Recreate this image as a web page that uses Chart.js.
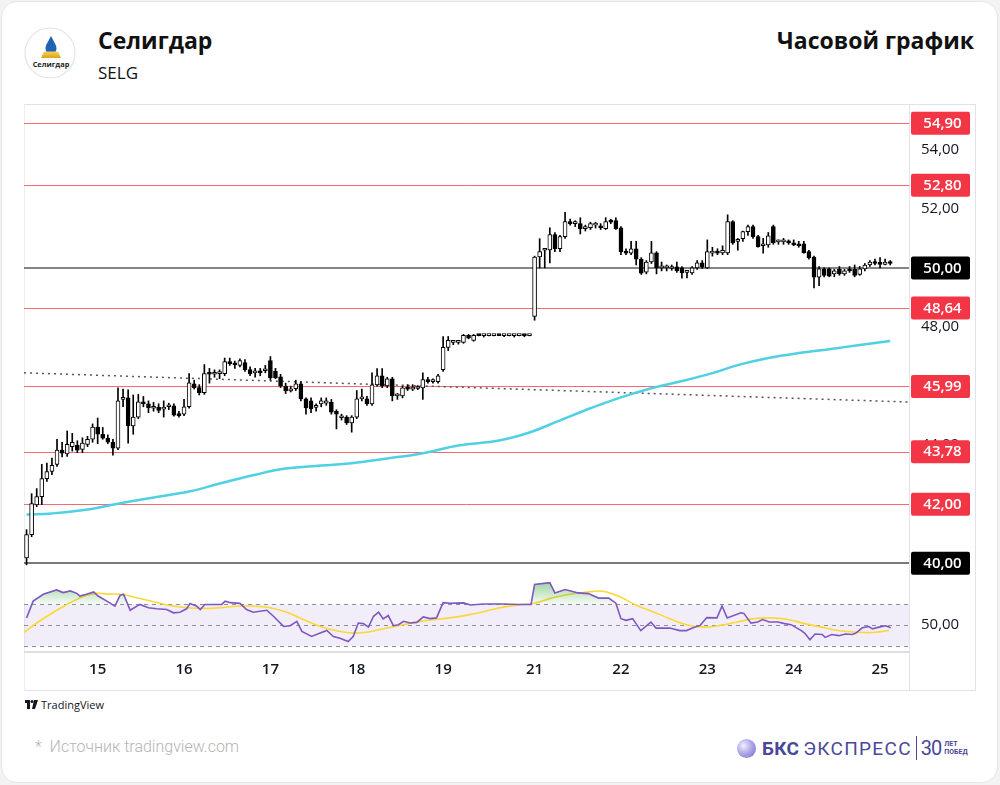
<!doctype html>
<html lang="ru">
<head>
<meta charset="utf-8">
<title>Селигдар — часовой график</title>
<script src="https://cdn.jsdelivr.net/npm/chart.js@4/dist/chart.umd.min.js"></script>
<style>
  html, body { margin: 0; padding: 0; background: #f3f3f3; }
  body { width: 1000px; height: 785px; position: relative; overflow: hidden; font-family: "Open Sans", "Noto Sans", sans-serif; }
  .card { position: absolute; left: 1px; top: 1px; width: 995px; height: 780px; background: #fff; border: 1px solid #e6e6e6; border-radius: 16px; }
  .logo { position: absolute; left: 24px; top: 27px; }
  .title { position: absolute; left: 98px; top: 24px; font-size: 23px; font-weight: 700; color: #111; }
  .ticker { position: absolute; left: 98px; top: 61px; font-size: 17px; color: #111; }
  .right-title { position: absolute; right: 26px; top: 24px; font-size: 23px; font-weight: 700; color: #111; }
  .frame { position: absolute; left: 24px; top: 104px; width: 950px; height: 585px; border: 1px solid #e0e3eb; border-left-color: #eceef2; }
  .sep { position: absolute; left: 909px; top: 105px; width: 1px; height: 585px; background: #e0e3eb; }
  /* canvases are offset by the 22px label padding Chart.js keeps above/below the y axes */
  #priceWrap { position: absolute; left: 24px; top: 83px; width: 952px; height: 504px; z-index: 2; }
  #rsiWrap { position: absolute; left: 24px; top: 548px; width: 952px; height: 142px; z-index: 1; }
  .tv { position: absolute; left: 25px; top: 697px; font-size: 11px; color: #131722; display: flex; align-items: center; gap: 3px; }
  .source { position: absolute; left: 35px; top: 737px; font-family: Roboto, sans-serif; font-size: 16px; font-weight: 300; color: #b4b4b4; }
  .bks { position: absolute; left: 737px; top: 736px; display: flex; align-items: center; color: #4a4799; font-family: Roboto, sans-serif; }
  .bks .ball { width: 19px; height: 19px; border-radius: 50%; background: radial-gradient(circle at 35% 35%, #f1efff 0%, #b7b0ec 40%, #6f64c9 100%); margin-right: 6px; }
  .bks .b1 { font-size: 19px; font-weight: 700; letter-spacing: 0.3px; }
  .bks .b2 { font-size: 19px; font-weight: 400; margin-left: 4px; letter-spacing: 1.3px; }
  .bks .bar { width: 1px; height: 24px; background: #4a4799; margin: 0 4px 0 4px; }
  .bks .b3 { font-size: 20px; font-weight: 400; letter-spacing: -1px; }
  .bks .b4 { font-size: 7px; line-height: 8px; font-weight: 700; margin-left: 3px; }
</style>
</head>
<body>
<div class="card"></div>

<svg class="logo" width="54" height="54" viewBox="0 0 54 54">
  <defs>
    <linearGradient id="gold" x1="0" y1="0" x2="0" y2="1">
      <stop offset="0" stop-color="#f6d35a"/>
      <stop offset="1" stop-color="#d9a21b"/>
    </linearGradient>
  </defs>
  <circle cx="26" cy="26" r="25" fill="#fff" stroke="#e4e4e4" stroke-width="1.2"/>
  <path d="M27 9 C24 15 21.5 18 21.5 21.5 A5.5 5.5 0 0 0 32.5 21.5 C32.5 18 30 15 27 9 Z" fill="#1f63b5"/>
  <polygon points="17,31 37,31 34,24.5 20,24.5" fill="url(#gold)"/>
  <text x="27" y="40" text-anchor="middle" font-family="Open Sans, sans-serif" font-size="7.4" font-weight="700" fill="#222">Селигдар</text>
</svg>
<div class="title">Селигдар</div>
<div class="ticker">SELG</div>
<div class="right-title">Часовой график</div>

<div class="frame"></div>
<div class="sep"></div>
<div id="rsiWrap"><canvas id="rsi"></canvas></div>
<div id="priceWrap"><canvas id="price"></canvas></div>

<div class="tv">
  <svg width="13" height="9" viewBox="0 0 13 9"><path d="M0 0h5v9H2V3H0z M9 0h4l-3 9H7z" fill="#131722"/><circle cx="7" cy="1.6" r="1.5" fill="#131722"/></svg>
  <span>TradingView</span>
</div>
<div class="source">*&nbsp;&nbsp;Источник tradingview.com</div>
<div class="bks">
  <div class="ball"></div>
  <span class="b1">БКС</span><span class="b2">ЭКСПРЕСС</span>
  <div class="bar"></div>
  <span class="b3">30</span><span class="b4">ЛЕТ<br>ПОБЕД</span>
</div>

<script>
// day labels on the time axis (candle index of the first bar of each day)
const dayTicks = [14, 31, 48, 65, 82, 100, 117, 134, 151, 168];
const dayLabels = ['15', '16', '17', '18', '19', '21', '22', '23', '24', '25'];

// horizontal levels
const redLevels = [54.90, 52.80, 48.64, 45.99, 43.78, 42.00];
const blackLevels = [50.00, 40.00];

// hourly candles: open, high, low, close
const ohlc = [
  [40.18, 41.14, 39.95, 40.97], [40.97, 42.36, 40.90, 42.02], [41.98, 42.53, 41.92, 42.26], [42.26, 43.35, 41.99, 42.87],
  [42.87, 43.39, 42.77, 43.11], [43.11, 43.56, 43.00, 43.32], [43.35, 44.20, 43.28, 43.83], [43.83, 44.10, 43.60, 43.73],
  [43.70, 44.48, 43.62, 44.03], [43.95, 44.40, 43.80, 44.10], [44.00, 44.15, 43.75, 43.83], [43.86, 44.25, 43.75, 44.07],
  [44.03, 44.30, 43.95, 44.20], [44.20, 44.72, 44.10, 44.61], [44.61, 44.92, 44.05, 44.37], [44.37, 44.60, 44.20, 44.24],
  [44.24, 44.35, 44.05, 44.10], [44.10, 44.20, 43.66, 43.90], [43.90, 45.94, 43.85, 45.50], [45.55, 45.90, 45.30, 45.60],
  [45.60, 45.87, 44.07, 44.65], [44.65, 45.70, 44.37, 44.95], [44.95, 45.72, 44.90, 45.47], [45.47, 45.65, 45.30, 45.40],
  [45.40, 45.50, 45.10, 45.26], [45.25, 45.45, 45.15, 45.28], [45.28, 45.40, 45.10, 45.18], [45.22, 45.50, 44.95, 45.26],
  [45.30, 45.42, 45.20, 45.34], [45.33, 45.40, 44.98, 45.02], [45.02, 45.15, 44.95, 45.00], [45.05, 45.55, 45.00, 45.30],
  [45.30, 46.42, 45.25, 46.11], [46.08, 46.20, 45.90, 45.95], [45.95, 46.05, 45.70, 45.78], [45.78, 46.73, 45.72, 46.42],
  [46.42, 46.60, 46.10, 46.40], [46.40, 46.55, 46.30, 46.42], [46.42, 46.55, 46.25, 46.44], [46.42, 46.95, 46.35, 46.83],
  [46.83, 46.95, 46.70, 46.76], [46.78, 46.85, 46.60, 46.72], [46.70, 46.92, 46.65, 46.86], [46.80, 46.90, 46.50, 46.56],
  [46.56, 46.65, 46.35, 46.42], [46.45, 46.60, 46.30, 46.46], [46.46, 46.60, 46.35, 46.45], [46.52, 46.70, 46.45, 46.58],
  [46.86, 47.00, 46.20, 46.28], [46.50, 46.60, 46.25, 46.28], [46.31, 46.40, 45.95, 46.00], [46.00, 46.10, 45.75, 45.84],
  [45.84, 46.00, 45.80, 45.90], [45.91, 46.20, 45.85, 46.08], [46.08, 46.15, 45.50, 45.57], [45.57, 45.60, 45.05, 45.26],
  [45.50, 45.60, 45.10, 45.23], [45.28, 45.40, 45.15, 45.32], [45.40, 45.60, 45.30, 45.50], [45.42, 45.60, 45.35, 45.50],
  [45.45, 45.55, 45.05, 45.12], [45.15, 45.20, 44.55, 45.05], [44.93, 45.05, 44.85, 44.97], [44.95, 45.00, 44.70, 44.75],
  [44.75, 45.00, 44.44, 44.95], [44.95, 45.85, 44.90, 45.57], [45.57, 45.90, 45.50, 45.60], [45.57, 45.65, 45.35, 45.40],
  [45.40, 46.45, 45.35, 46.04], [46.04, 46.59, 46.00, 46.35], [46.35, 46.59, 45.95, 46.01], [46.01, 46.30, 45.95, 46.25],
  [46.25, 46.30, 45.50, 45.67], [45.67, 45.75, 45.55, 45.67], [45.67, 46.00, 45.60, 45.94], [45.94, 46.05, 45.85, 45.90],
  [45.90, 46.05, 45.85, 45.92], [45.92, 46.02, 45.88, 45.95], [45.94, 46.45, 45.55, 46.22], [46.22, 46.30, 46.10, 46.15],
  [46.15, 46.25, 46.10, 46.18], [46.15, 46.40, 46.10, 46.35], [46.56, 47.68, 46.50, 47.31], [47.31, 47.68, 47.20, 47.55],
  [47.48, 47.55, 47.40, 47.48], [47.48, 47.55, 47.42, 47.50], [47.48, 47.75, 47.45, 47.72], [47.72, 47.75, 47.60, 47.62],
  [47.55, 47.75, 47.52, 47.72], [47.72, 47.74, 47.70, 47.71], [47.71, 47.73, 47.66, 47.71], [47.71, 47.72, 47.70, 47.71],
  [47.71, 47.73, 47.70, 47.72], [47.72, 47.73, 47.71, 47.71], [47.71, 47.72, 47.67, 47.71], [47.71, 47.72, 47.70, 47.71],
  [47.71, 47.73, 47.66, 47.71], [47.71, 47.72, 47.70, 47.72], [47.72, 47.73, 47.67, 47.71], [47.71, 47.73, 47.70, 47.72],
  [48.36, 50.40, 48.23, 50.37], [50.37, 50.99, 50.00, 50.55], [50.60, 50.62, 50.00, 50.61], [50.61, 51.36, 50.17, 51.13],
  [51.13, 51.20, 50.55, 50.65], [50.65, 51.10, 50.55, 51.06], [51.06, 51.88, 51.00, 51.57], [51.57, 51.65, 51.45, 51.50],
  [51.50, 51.60, 51.40, 51.50], [51.50, 51.70, 51.15, 51.33], [51.33, 51.45, 51.25, 51.36], [51.36, 51.55, 51.30, 51.50],
  [51.45, 51.55, 51.35, 51.50], [51.42, 51.50, 51.30, 51.36], [51.33, 51.70, 51.30, 51.57], [51.60, 51.65, 51.50, 51.55],
  [51.60, 51.70, 51.30, 51.33], [51.36, 51.40, 50.45, 50.55], [50.55, 50.65, 50.45, 50.50], [50.50, 50.90, 50.45, 50.65],
  [50.65, 50.90, 50.10, 50.30], [50.30, 50.35, 49.78, 49.82], [49.86, 50.25, 49.80, 50.20], [50.20, 50.90, 50.15, 50.51],
  [50.51, 50.55, 49.80, 50.00], [50.00, 50.20, 49.90, 50.00], [50.00, 50.10, 49.90, 50.02], [49.98, 50.10, 49.92, 50.04],
  [50.04, 50.20, 49.85, 49.90], [50.00, 50.05, 49.65, 49.83], [49.85, 49.90, 49.66, 49.88], [49.83, 50.05, 49.78, 50.00],
  [50.00, 50.25, 49.95, 50.17], [50.17, 50.25, 49.98, 50.03], [50.00, 50.95, 49.98, 50.55], [50.50, 50.70, 50.40, 50.55],
  [50.55, 50.65, 50.45, 50.50], [50.51, 50.75, 50.45, 50.60], [50.51, 51.80, 50.45, 51.57], [51.57, 51.60, 50.80, 50.85],
  [50.90, 51.00, 50.60, 50.95], [50.99, 51.25, 50.90, 51.23], [51.23, 51.45, 51.10, 51.40], [51.40, 51.45, 51.00, 51.06],
  [51.06, 51.10, 50.70, 50.72], [50.75, 51.00, 50.50, 50.80], [50.78, 51.20, 50.70, 51.09], [51.40, 51.45, 50.80, 50.85],
  [50.88, 50.95, 50.80, 50.90], [50.88, 51.00, 50.80, 50.92], [50.92, 50.95, 50.80, 50.85], [50.85, 50.95, 50.75, 50.78],
  [50.80, 50.90, 50.70, 50.75], [50.82, 50.90, 50.50, 50.51], [50.55, 50.60, 50.30, 50.34], [50.37, 50.40, 49.32, 49.69],
  [49.69, 50.05, 49.40, 49.97], [49.97, 50.00, 49.70, 49.75], [49.97, 50.00, 49.70, 49.72], [49.80, 49.95, 49.70, 49.90],
  [49.95, 50.05, 49.75, 49.80], [49.80, 49.95, 49.75, 49.90], [49.93, 50.05, 49.85, 49.90], [49.95, 50.10, 49.70, 49.75],
  [49.78, 50.05, 49.75, 49.97], [49.97, 50.15, 49.90, 50.10], [50.10, 50.25, 50.05, 50.20], [50.20, 50.30, 50.10, 50.15],
  [50.15, 50.35, 50.00, 50.12], [50.12, 50.30, 50.10, 50.20], [50.18, 50.25, 50.10, 50.15]
];

// long moving average (cyan), read at sample points [candle index, value]
const maPoints = [
  [0, 41.65], [5, 41.69], [12, 41.82], [18, 42.02], [25, 42.23], [32, 42.43], [38, 42.70], [45, 43.00],
  [51, 43.21], [58, 43.31], [64, 43.39], [71, 43.55], [78, 43.73], [85, 43.99], [93, 44.16], [99, 44.43],
  [105, 44.84], [111, 45.25], [117, 45.62], [123, 45.93], [129, 46.17], [135, 46.44], [140, 46.71],
  [146, 46.95], [152, 47.12], [158, 47.25], [164, 47.39], [170, 47.53]
];

// dotted trend line
const trendPoints = [[-0.5, 46.45], [173.7, 45.46]];

// RSI (purple) and its moving average (yellow)
const rsiPoints = [
  [0, 57], [1.3, 73.2], [3.3, 79.8], [5.9, 84], [7.2, 81.4], [8.6, 83], [9.9, 80.7], [10.5, 78.1], [11.8, 79.8],
  [13.2, 82], [14.1, 78.1], [15.8, 73.2], [17.4, 68.3], [18.4, 78.8], [19.1, 79.8], [20.4, 64.4], [22.3, 70],
  [24, 66.8], [25.6, 65.8], [27.6, 65.1], [28.9, 61.9], [30.2, 62.5], [31.5, 65.8], [32.2, 71], [33.5, 68.3],
  [34.2, 65.1], [35.1, 70], [36.8, 70], [38.4, 70], [39.1, 73.2], [40.1, 71.7], [42, 71], [43.3, 65.1],
  [44.6, 62.5], [47.3, 64.4], [48.6, 58.6], [50.6, 48.8], [51.9, 49.5], [53.2, 53.7], [54.2, 44], [56.1, 39.1],
  [57.8, 42.4], [59.1, 44.9], [60.4, 39.1], [61.7, 37.5], [63.3, 34.2], [64.3, 39.1], [65.3, 52.1], [66.3, 51.5],
  [67.3, 48.2], [68.3, 58.6], [69.3, 62.5], [70.2, 56], [71.2, 59.3], [72.2, 49.5], [73.2, 50.5], [74.2, 53.7],
  [75.5, 52.1], [76.8, 52.7], [78.1, 58], [79.4, 56.3], [80.7, 57], [82, 71.7], [83.4, 71.2], [86, 71.5],
  [87.4, 69.5], [90, 70.4], [94, 70.4], [96.7, 70], [99.3, 70], [100, 89.3], [103, 91], [104, 81.1],
  [106, 84.3], [107.3, 82.7], [108.6, 81.1], [110.6, 80.4], [112.6, 76.1], [114.6, 76.1], [116, 71.2],
  [117, 56.3], [118, 54.7], [119.3, 56.3], [120.9, 44.8], [122.9, 53], [123.9, 47.2], [126.6, 47.2],
  [128.6, 44.8], [129.9, 44.8], [131.2, 47.5], [132.6, 49.8], [133.9, 57.3], [135.9, 57], [136.9, 68.5],
  [137.9, 57], [140.6, 62], [141.2, 61.4], [142.6, 52], [143.9, 53], [144.9, 55.4], [146.2, 53], [147.9, 53],
  [149.2, 51.5], [150.5, 50.5], [152.5, 44.8], [153.2, 42.2], [154.2, 36], [155.2, 41.5], [156.6, 41],
  [157.2, 38.2], [158.5, 41], [159.9, 39.9], [161.2, 41.5], [162.5, 41], [163.2, 42.2], [164.5, 47.5],
  [165.8, 48.7], [166.5, 46.5], [167.8, 48.1], [169.1, 49.4], [170.1, 47.5]
];
const rsiSignal = [
  [-0.5, 43], [2, 52.1], [5.3, 62.5], [8.6, 71.7], [11.8, 78.8], [13.8, 80.7], [15.8, 80], [18.4, 79.8],
  [21.7, 76.5], [25, 72.6], [28.2, 69], [31.5, 66.8], [34.8, 66.1], [38.1, 66.8], [41.4, 68.3], [44.6, 68.3],
  [47.9, 66.8], [51.2, 62.5], [54.5, 55.4], [57.8, 48.8], [61.1, 44.6], [64.3, 42.4], [67.6, 43.7], [70.9, 47.3],
  [74.2, 50.5], [77.5, 53.7], [80.7, 55.4], [84, 57.5], [86.7, 59.7], [90, 63], [93.3, 66.9], [96.7, 69.5],
  [100, 71.2], [103.3, 76.1], [106.6, 79.5], [110, 81.7], [113.3, 82.7], [116.6, 77.8], [119.9, 69.5],
  [123.3, 63], [126.6, 56.3], [129.9, 50.4], [133.2, 48.1], [136.6, 49.8], [139.9, 53], [143.2, 56.3],
  [146.6, 57], [149.9, 55.4], [153.2, 51.5], [156.5, 48.1], [159.8, 44.8], [163.2, 43.2], [166.5, 42.9],
  [169.8, 44.8]
];
const rsiBands = [70, 50, 30];

const X_MIN = -0.5, X_MAX = 173.7;
const AXIS_W = 67;
const FONT = '"Open Sans", "Noto Sans", sans-serif';
const fmt = v => v.toFixed(2).replace('.', ',');
const toXY = arr => arr.map(p => ({ x: p[0], y: p[1] }));

// level lines under the candles, price badges on the right axis
const levelsPlugin = {
  id: 'levels',
  beforeDatasetsDraw(chart) {
    const { ctx, chartArea: a, scales: { y } } = chart;
    ctx.save();
    redLevels.forEach(v => {
      const py = Math.round(y.getPixelForValue(v)) + 0.5;
      ctx.strokeStyle = '#f26b74';
      ctx.lineWidth = 1;
      ctx.beginPath(); ctx.moveTo(a.left, py); ctx.lineTo(a.right, py); ctx.stroke();
    });
    blackLevels.forEach(v => {
      const py = Math.round(y.getPixelForValue(v));
      ctx.strokeStyle = v === 40 ? '#7a7a7a' : '#5c5c5c';
      ctx.lineWidth = v === 40 ? 2 : 1.3;
      ctx.beginPath(); ctx.moveTo(a.left, py); ctx.lineTo(a.right, py); ctx.stroke();
    });
    ctx.restore();
  },
  afterDraw(chart) {
    const { ctx, chartArea: a, scales: { y } } = chart;
    const draw = (v, bg) => {
      const py = y.getPixelForValue(v);
      const x0 = a.right + 2, w = 59, h = 23;
      ctx.fillStyle = bg;
      ctx.beginPath();
      ctx.roundRect(x0, py - h / 2, w, h, 2);
      ctx.fill();
      ctx.fillStyle = '#fff';
      ctx.font = '600 15px ' + FONT;
      ctx.textAlign = 'center';
      ctx.textBaseline = 'middle';
      ctx.fillText(fmt(v), x0 + w / 2 + 2, py + 0.5);
    };
    ctx.save();
    redLevels.forEach(v => draw(v, '#f23645'));
    blackLevels.forEach(v => draw(v, '#000'));
    ctx.restore();
  }
};

new Chart(document.getElementById('price'), {
  type: 'bar',
  data: {
    datasets: [
      {
        type: 'line',
        data: toXY(trendPoints),
        borderColor: '#555',
        borderWidth: 1.5,
        borderDash: [2, 4],
        pointRadius: 0,
        order: 4
      },
      {
        type: 'line',
        data: toXY(maPoints),
        borderColor: '#4fd0e3',
        borderWidth: 2.5,
        tension: 0.4,
        pointRadius: 0,
        order: 3
      },
      {
        data: ohlc.map((c, i) => ({ x: i, y: [c[2], c[1]] })),
        backgroundColor: '#000',
        borderWidth: 0,
        barThickness: 1,
        grouped: false,
        order: 2
      },
      {
        data: ohlc.map((c, i) => ({ x: i, y: [c[0], c[3]] })),
        backgroundColor: ohlc.map(c => c[3] >= c[0] ? '#fff' : '#000'),
        borderColor: '#000',
        borderWidth: 1,
        borderSkipped: false,
        barThickness: 4,
        minBarLength: 2,
        grouped: false,
        order: 1
      }
    ]
  },
  options: {
    responsive: true,
    maintainAspectRatio: false,
    animation: false,
    layout: { padding: 0 },
    plugins: { legend: { display: false }, tooltip: { enabled: false } },
    scales: {
      x: { type: 'linear', min: X_MIN, max: X_MAX, offset: false, display: false },
      y: {
        position: 'right',
        min: 39.91, max: 55.55,
        beginAtZero: false,
        grid: { display: false, drawTicks: false },
        border: { display: false },
        afterBuildTicks: s => { s.ticks = [40, 42, 44, 46, 48, 50, 52, 54].map(v => ({ value: v })); },
        afterFit: s => { s.width = AXIS_W; },
        ticks: { padding: 12, color: '#131722', font: { family: FONT, size: 15 }, callback: v => fmt(v) }
      }
    }
  },
  plugins: [levelsPlugin]
});

// RSI pane
const rsiBandPlugin = {
  id: 'rsiBand',
  beforeDatasetsDraw(chart) {
    const { ctx, chartArea: a, scales: { yR } } = chart;
    const top = yR.getPixelForValue(70), bot = yR.getPixelForValue(30);
    ctx.save();
    ctx.fillStyle = 'rgba(126, 87, 194, 0.1)';
    ctx.fillRect(a.left, top, a.right - a.left, bot - top);
    ctx.strokeStyle = '#8c8f99';
    ctx.lineWidth = 1;
    ctx.setLineDash([4, 4]);
    rsiBands.forEach(v => {
      const py = Math.round(yR.getPixelForValue(v)) + 0.5;
      ctx.beginPath(); ctx.moveTo(a.left, py); ctx.lineTo(a.right, py); ctx.stroke();
    });
    ctx.restore();
  }
};

new Chart(document.getElementById('rsi'), {
  type: 'line',
  data: {
    datasets: [
      {
        data: toXY(rsiPoints),
        yAxisID: 'yR',
        borderColor: '#7e57c2',
        borderWidth: 1.6,
        pointRadius: 0,
        tension: 0,
        fill: { target: { value: 70 }, below: 'rgba(0,0,0,0)' },
        backgroundColor: ctx => {
          const chart = ctx.chart;
          if (!chart.chartArea || !chart.scales.yR) return 'rgba(76,175,80,0.3)';
          const y0 = chart.scales.yR.getPixelForValue(92);
          const y1 = chart.scales.yR.getPixelForValue(70);
          const g = chart.ctx.createLinearGradient(0, y0, 0, y1);
          g.addColorStop(0, 'rgba(76,175,80,0.55)');
          g.addColorStop(1, 'rgba(76,175,80,0.05)');
          return g;
        },
        order: 1
      },
      {
        data: toXY(rsiSignal),
        yAxisID: 'yR',
        borderColor: '#fdd835',
        borderWidth: 1.6,
        pointRadius: 0,
        tension: 0.4,
        order: 2
      }
    ]
  },
  options: {
    responsive: true,
    maintainAspectRatio: false,
    animation: false,
    layout: { padding: 0 },
    plugins: { legend: { display: false }, tooltip: { enabled: false } },
    scales: {
      x: {
        type: 'linear', min: X_MIN, max: X_MAX, offset: false,
        grid: { display: false, drawTicks: false },
        border: { display: true, color: '#dedfe3', width: 2 },
        afterBuildTicks: s => { s.ticks = dayTicks.map(v => ({ value: v })); },
        afterFit: s => { s.height = 38; },
        ticks: {
          autoSkip: false, maxRotation: 0, padding: 9,
          color: '#131722', font: { family: FONT, size: 15, weight: '600' },
          callback: v => dayLabels[dayTicks.indexOf(v)]
        }
      },
      yR: {
        position: 'right',
        min: 24.15, max: 104.15,
        grid: { display: false, drawTicks: false },
        border: { display: false },
        afterBuildTicks: s => { s.ticks = [{ value: 50 }]; },
        afterFit: s => { s.width = AXIS_W; },
        ticks: { padding: 12, color: '#131722', font: { family: FONT, size: 15 }, callback: v => fmt(v) }
      }
    }
  },
  plugins: [rsiBandPlugin]
});
</script>
</body>
</html>
